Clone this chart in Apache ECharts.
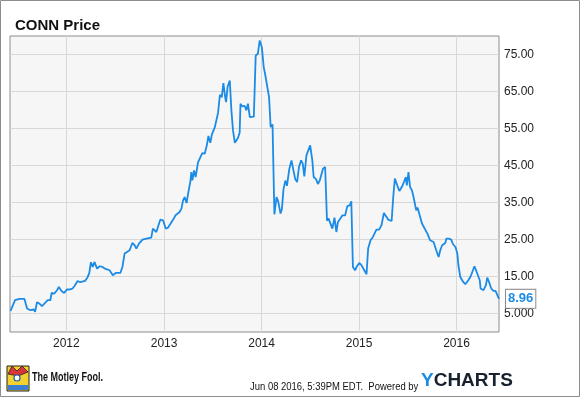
<!DOCTYPE html>
<html>
<head>
<meta charset="utf-8">
<script src="https://cdn.jsdelivr.net/npm/echarts@6/dist/echarts.min.js"></script>
<style>
html,body{margin:0;padding:0;background:#fff}
#main{width:580px;height:397px}
</style>
</head>
<body>
<div id="main"></div>
<script>
// CONN weekly-ish closes
var dates2011 = ['2011-06-06','2011-06-23','2011-07-09','2011-07-28','2011-08-03','2011-08-07','2011-08-19','2011-08-24','2011-09-01','2011-09-06','2011-09-13','2011-09-22','2011-10-02','2011-10-11','2011-10-23','2011-11-02','2011-11-07','2011-11-17','2011-11-27','2011-12-04','2011-12-14','2011-12-24'];
var prices2011 = [5.70,8.59,8.94,8.94,8.59,6.35,5.89,5.43,6.08,5.43,8.05,7.70,6.97,7.70,8.59,8.59,10.56,10.40,11.29,12.18,11.10,10.56];

var dates2012 = ['2012-01-03','2012-01-12','2012-01-18','2012-01-24','2012-01-31','2012-02-12','2012-02-22','2012-03-11','2012-03-21','2012-03-27','2012-04-02','2012-04-09','2012-04-15','2012-04-25','2012-05-05','2012-05-15','2012-05-24','2012-06-11','2012-06-23','2012-07-04','2012-07-21','2012-07-29','2012-08-06','2012-08-15','2012-08-25','2012-09-04','2012-09-13','2012-09-19','2012-09-29','2012-10-12','2012-10-27','2012-11-14','2012-11-20','2012-11-27','2012-12-03','2012-12-09','2012-12-18','2012-12-28'];
var prices2012 = [11.48,11.48,12.02,11.75,12.37,13.80,13.45,13.80,14.88,15.96,18.85,17.58,18.93,17.15,17.77,17.58,17.15,16.69,15.34,15.96,15.96,17.58,21.20,21.63,22.09,24.06,23.44,22.55,23.90,24.98,25.25,25.52,27.95,27.49,27.03,28.38,30.38,30.19];

var dates2013 = ['2013-01-07','2013-01-16','2013-01-22','2013-02-04','2013-02-13','2013-02-18','2013-02-28','2013-03-07','2013-03-13','2013-03-19','2013-03-26','2013-04-01','2013-04-10','2013-04-13','2013-04-17','2013-04-23','2013-04-29','2013-05-08','2013-05-17','2013-05-24','2013-06-02','2013-06-10','2013-06-16','2013-06-23','2013-06-29','2013-07-10','2013-07-16','2013-07-22','2013-07-29','2013-08-05','2013-08-11','2013-08-18','2013-08-21','2013-08-27','2013-09-04','2013-09-10','2013-09-16','2013-09-23','2013-09-29','2013-10-05','2013-10-11','2013-10-14','2013-10-21','2013-10-30','2013-11-05','2013-11-11','2013-11-18','2013-11-24','2013-12-03','2013-12-10','2013-12-18','2013-12-25'];
var prices2013 = [27.95,28.22,27.95,30.38,31.54,31.27,32.43,33.35,35.59,36.48,34.86,37.40,40.99,43.23,40.99,43.69,41.88,45.85,47.28,48.36,48.20,50.44,53.00,51.12,53.41,55.38,57.30,59.22,64.08,63.48,67.26,63.27,62.13,66.37,67.99,59.89,54.49,51.12,50.90,52.47,53.95,61.70,60.97,61.10,59.89,61.70,58.08,58.54,58.19,74.74,75.20,78.79];

var dates2014 = ['2014-01-02','2014-01-09','2014-01-14','2014-01-20','2014-01-29','2014-02-04','2014-02-11','2014-02-18','2014-02-26','2014-03-04','2014-03-13','2014-03-18','2014-03-24','2014-03-31','2014-04-06','2014-04-15','2014-04-23','2014-04-29','2014-05-07','2014-05-14','2014-05-21','2014-05-29','2014-06-04','2014-06-10','2014-06-18','2014-06-25','2014-07-02','2014-07-10','2014-07-15','2014-07-24','2014-07-31','2014-08-07','2014-08-13','2014-08-19','2014-08-27','2014-09-03','2014-09-09','2014-09-16','2014-09-23','2014-10-01','2014-10-08','2014-10-14','2014-10-23','2014-10-31','2014-11-10','2014-11-18','2014-11-27','2014-12-03','2014-12-09','2014-12-17','2014-12-24'];
var prices2014 = [76.98,71.58,69.80,69.96,63.48,55.38,56.11,31.81,36.48,35.38,32.00,33.16,38.56,40.91,39.51,44.15,46.39,44.15,41.32,40.53,44.58,46.39,45.58,42.07,47.74,48.28,50.44,46.39,41.88,41.32,40.00,40.99,41.45,44.15,44.58,30.06,30.65,29.30,27.95,30.92,27.03,29.73,30.65,31.54,31.54,34.03,34.24,35.32,17.58,16.69,17.77];

var dates2015 = ['2015-01-02','2015-01-10','2015-01-19','2015-01-29','2015-02-04','2015-02-13','2015-02-22','2015-03-01','2015-03-07','2015-03-17','2015-03-26','2015-04-04','2015-04-11','2015-04-20','2015-05-03','2015-05-09','2015-05-15','2015-05-24','2015-06-01','2015-06-10','2015-06-18','2015-06-25','2015-06-29','2015-07-05','2015-07-11','2015-07-18','2015-07-24','2015-08-03','2015-08-08','2015-08-15','2015-08-24','2015-08-30','2015-09-06','2015-09-14','2015-09-24','2015-10-01','2015-10-07','2015-10-17','2015-10-26','2015-11-01','2015-11-08','2015-11-14','2015-11-20','2015-11-24','2015-12-03','2015-12-12','2015-12-19','2015-12-28'];
var prices2015 = [18.66,18.04,16.88,15.61,22.55,24.79,25.68,25.87,27.68,27.68,28.84,32.16,32.16,30.38,30.00,36.48,41.45,39.64,38.10,39.18,40.53,41.88,39.64,43.23,39.18,38.29,36.48,32.89,33.62,33.62,29.46,28.57,28.84,26.60,24.79,25.25,24.33,22.09,20.28,22.09,23.44,23.17,24.06,25.25,25.25,24.98,23.71,22.98];

var dates2016 = ['2016-01-04','2016-01-08','2016-01-15','2016-01-26','2016-02-03','2016-02-10','2016-02-16','2016-02-23','2016-02-29','2016-03-08','2016-03-15','2016-03-21','2016-03-28','2016-03-31','2016-04-11','2016-04-15','2016-04-20','2016-04-25','2016-05-03','2016-05-10','2016-05-18','2016-05-26','2016-06-02','2016-06-08'];
var prices2016 = [21.20,18.04,14.88,13.53,12.91,13.10,14.18,15.07,16.23,17.77,16.50,16.69,13.99,11.75,11.29,11.10,12.64,14.72,13.26,11.75,11.10,11.10,10.83,8.96];

var startDate = '2011-06-04';
var endDate = '2016-06-08';
var yearLabels = ['2012','2013','2014','2015','2016'];
var yTicks = [5,15,25,35,45,55,65,75];
var yTickLabels = ['5.000','15.00','25.00','35.00','45.00','55.00','65.00','75.00'];

function toTime(s) { return +new Date(s + 'T00:00:00'); }

var allDates = dates2011.concat(dates2012, dates2013, dates2014, dates2015, dates2016);
var allPrices = prices2011.concat(prices2012, prices2013, prices2014, prices2015, prices2016);
var seriesData = [];
for (var i = 0; i < allDates.length; i++) {
    seriesData.push([toTime(allDates[i]), allPrices[i]]);
}
var yearTicks = yearLabels.map(function (y) { return toTime(y + '-01-01'); });

var font = 'Liberation Sans, Arial, sans-serif';
var myChart = echarts.init(document.getElementById('main'));

var option = {
    animation: false,
    backgroundColor: '#fff',
    textStyle: {fontFamily: font},
    title: {
        text: 'CONN Price',
        left: 10,
        top: 13,
        textStyle: {fontSize: 15, fontWeight: 'bold', color: '#111', fontFamily: font}
    },
    grid: {
        left: 10, top: 36, right: 81, bottom: 65,
        show: true,
        backgroundColor: '#f6f6f6',
        borderColor: '#8c8c8c',
        borderWidth: 1
    },
    xAxis: {
        type: 'value',
        min: toTime(startDate),
        max: toTime(endDate),
        axisLine: {show: false},
        axisTick: {show: false, customValues: yearTicks},
        axisLabel: {
            customValues: yearTicks,
            color: '#222',
            fontSize: 12,
            margin: 6,
            formatter: function (v) { return yearLabels[yearTicks.indexOf(v)]; }
        },
        splitLine: {show: true, lineStyle: {color: '#d8d8d8', width: 1}}
    },
    yAxis: {
        type: 'value',
        position: 'right',
        min: 0,
        max: 80,
        axisLine: {show: false},
        axisTick: {show: false, customValues: yTicks},
        axisLabel: {
            customValues: yTicks,
            color: '#222',
            fontSize: 12,
            margin: 5,
            formatter: function (v) { return yTickLabels[yTicks.indexOf(v)]; }
        },
        splitLine: {show: true, lineStyle: {color: '#d8d8d8', width: 1}}
    },
    series: [{
        type: 'line',
        data: seriesData,
        showSymbol: false,
        lineStyle: {color: '#1b8be6', width: 1.8},
        endLabel: {
            show: true,
            distance: 7,
            formatter: function (p) { return p.value[1].toFixed(2); },
            color: '#1b8be6',
            fontWeight: 'bold',
            fontSize: 13,
            backgroundColor: '#fff',
            borderColor: '#8c8c8c',
            borderWidth: 1,
            padding: [3, 2, 2, 2]
        }
    }],
    graphic: [
        {type: 'rect', shape: {x: 0.5, y: 0.5, width: 579, height: 396}, style: {fill: 'none', stroke: '#8c8c8c', lineWidth: 1}, silent: true},
        // jester logo
        {type: 'rect', shape: {x: 7, y: 366, width: 22, height: 25}, style: {fill: '#f2d22e', stroke: '#222', lineWidth: 1}},
        {type: 'polygon', shape: {points: [[8, 374], [12, 366], [17, 371], [22, 366], [28, 372], [18, 376]]}, style: {fill: '#d9343a', stroke: '#222', lineWidth: 0.8}},
        {type: 'circle', shape: {cx: 17, cy: 378, r: 3}, style: {fill: '#fff', stroke: '#1f5fb5', lineWidth: 1.2}},
        {type: 'rect', shape: {x: 8, y: 385, width: 20, height: 5}, style: {fill: '#3a7fd0'}},
        {
            type: 'text', left: 32, top: 372, scaleX: 0.75,
            style: {text: 'The Motley Fool.', font: 'bold 12px ' + font, fill: '#111'}
        },
        {
            type: 'text', left: 250, top: 381, scaleX: 0.86,
            style: {text: 'Jun 08 2016, 5:39PM EDT.  Powered by', font: '11px ' + font, fill: '#111'}
        },
        {
            type: 'text', left: 421, top: 371,
            style: {
                text: '{y|Y}{c|CHARTS}',
                rich: {
                    y: {fontSize: 19, fontWeight: 'bold', fontFamily: font, fill: '#1a8de3'},
                    c: {fontSize: 19, fontWeight: 'bold', fontFamily: font, fill: '#17222e'}
                }
            }
        }
    ]
};
myChart.setOption(option);
</script>
</body>
</html>
